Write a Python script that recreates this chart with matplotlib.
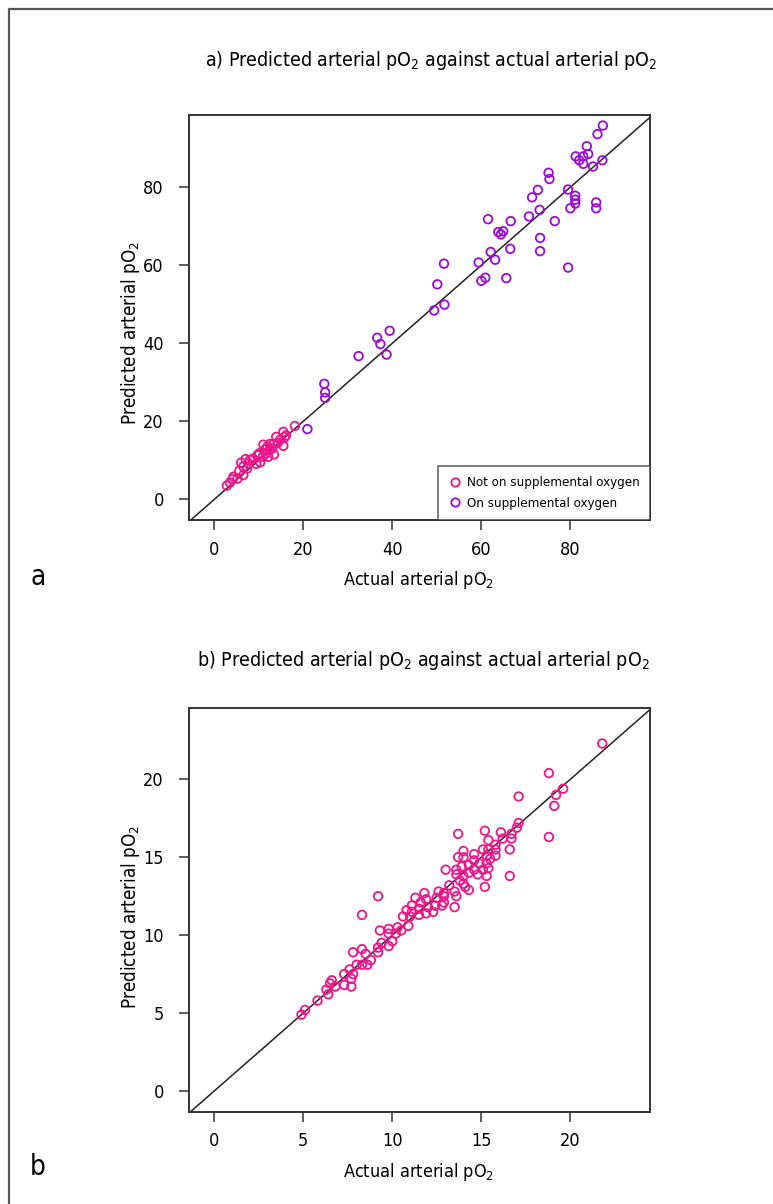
import matplotlib
matplotlib.use("Agg")
import matplotlib.pyplot as plt
from matplotlib import font_manager as fm
from matplotlib.lines import Line2D

# the original uses a narrow face; pick the narrowest one installed
fonts = fm.fontManager.ttflist
names = {f.name for f in fonts}
if 'Liberation Sans Narrow' in names:
    family, stretch = 'Liberation Sans Narrow', 'normal'
elif any(f.name == 'DejaVu Sans' and f.stretch == 'condensed' for f in fonts):
    family, stretch = 'DejaVu Sans', 'condensed'
elif 'Roboto Condensed' in names:
    family, stretch = 'Roboto Condensed', 'normal'
else:
    family, stretch = 'Roboto', 'normal'

plt.rcParams['font.family'] = [family, 'DejaVu Sans']
plt.rcParams['font.stretch'] = stretch
plt.rcParams['mathtext.default'] = 'regular'

PINK = '#EC168C'
PURPLE = '#9A0AD6'

# panel a: not on supplemental oxygen
a_not_x = [18.1, 15.5, 16.1, 15.8, 13.9, 15.5, 13.3, 12.5, 11.0, 11.9, 13.4, 12.4, 13.0,
           11.4, 10.1, 10.9, 12.1, 9.7, 10.3, 9.4, 8.0, 7.6, 7.0, 6.0, 8.6, 6.5, 5.6,
           6.5, 5.2, 4.3, 4.1, 3.5, 2.8, 7.4, 10.0, 11.6, 14.2, 14.8]
a_not_y = [18.8, 17.3, 16.4, 15.9, 16.0, 13.7, 14.2, 14.2, 14.0, 13.5, 11.5, 12.6, 13.0,
           12.8, 11.8, 10.9, 10.9, 11.3, 9.5, 9.1, 10.1, 9.2, 10.3, 9.4, 10.4, 8.4, 7.3,
           6.2, 5.3, 5.8, 5.2, 4.3, 3.5, 7.9, 11.4, 11.8, 14.4, 15.3]

# panel a: on supplemental oxygen
a_on_x = [87.3, 86.1, 83.7, 84.0, 81.2, 82.0, 82.9, 82.9, 87.2, 85.1, 75.1, 75.3, 72.7,
          79.5, 71.4, 81.1, 81.1, 81.1, 85.8, 85.8, 80.0, 73.1, 70.7, 61.5, 66.6, 76.5,
          63.8, 64.4, 64.9, 73.2, 62.1, 66.5, 73.2, 59.4, 63.1, 51.6, 79.5, 60.0, 60.9,
          65.6, 50.1, 51.7, 49.4, 39.4, 36.6, 37.3, 38.7, 32.4, 24.7, 24.9, 24.9, 20.9]
a_on_y = [95.8, 93.6, 90.5, 88.5, 87.9, 86.9, 87.9, 86.0, 86.9, 85.3, 83.7, 82.1, 79.3,
          79.4, 77.4, 77.8, 76.8, 75.8, 76.1, 74.6, 74.6, 74.2, 72.5, 71.8, 71.3, 71.3,
          68.5, 67.9, 68.7, 67.0, 63.4, 64.2, 63.6, 60.7, 61.4, 60.4, 59.4, 56.0, 56.8,
          56.7, 55.1, 49.9, 48.4, 43.2, 41.4, 39.8, 37.1, 36.7, 29.6, 27.4, 26.0, 18.0]

# panel b
b_x = [21.8, 18.8, 17.1, 19.2, 19.6, 19.1, 18.8, 17.1, 17.0, 16.7, 16.7, 16.1, 16.2,
       16.6, 16.6, 15.2, 15.4, 13.7, 15.8, 15.8, 15.1, 15.4, 14.0, 15.8, 15.3, 14.6,
       13.7, 14.0, 15.5, 14.9, 15.3, 14.3, 13.9, 14.6, 15.4, 15.1, 14.6, 13.6, 14.3,
       13.0, 13.6, 15.3, 14.8, 14.0, 13.8, 14.0, 14.1, 14.3, 15.2, 13.2, 13.5, 13.6,
       12.6, 12.9, 12.9, 11.8, 11.3, 11.9, 12.5, 9.2, 11.6, 12.9, 11.1, 12.4, 12.8,
       13.5, 12.0, 10.8, 12.3, 11.9, 11.5, 11.1, 11.5, 10.6, 11.0, 10.9, 10.3, 10.5,
       10.2, 9.8, 9.8, 9.3, 10.0, 9.8, 9.4, 9.2, 9.2, 8.3, 8.3, 7.8, 8.5, 8.8, 8.6,
       8.3, 8.0, 7.6, 7.3, 7.8, 7.7, 7.7, 7.3, 6.8, 6.6, 6.5, 6.3, 6.4, 5.8, 5.1, 4.9]
b_y = [22.3, 20.4, 18.9, 19.0, 19.4, 18.3, 16.3, 17.2, 16.9, 16.5, 16.2, 16.6, 16.2,
       15.5, 13.8, 16.7, 16.1, 16.5, 15.8, 15.5, 15.5, 15.5, 15.4, 15.1, 15.1, 15.2,
       15.0, 15.0, 14.9, 14.6, 14.6, 14.5, 14.4, 14.8, 14.3, 14.2, 14.2, 14.2, 14.0,
       14.2, 13.9, 13.8, 13.9, 13.8, 13.5, 13.3, 13.1, 12.9, 13.1, 13.2, 12.8, 12.5,
       12.8, 12.7, 12.5, 12.7, 12.4, 12.3, 12.4, 12.5, 12.1, 12.1, 11.9, 11.9, 11.9,
       11.8, 11.8, 11.6, 11.5, 11.4, 11.3, 11.5, 11.7, 11.2, 11.2, 10.6, 10.5, 10.3,
       10.1, 10.4, 10.1, 10.3, 9.6, 9.3, 9.5, 9.2, 8.9, 11.3, 9.1, 8.9, 8.8, 8.4, 8.1,
       8.1, 8.1, 7.8, 7.5, 7.5, 7.2, 6.7, 6.8, 6.7, 7.1, 6.9, 6.5, 6.2, 5.8, 5.2, 4.9]

W, H = 773, 1204
fig = plt.figure(figsize=(W / 100, H / 100), dpi=100)


def fx(px):
    return px / W


def fy(py):
    return 1 - py / H


def setup(ax, xlim, ylim, ticks):
    ax.set_xlim(*xlim)
    ax.set_ylim(*ylim)
    ax.set_xticks(ticks)
    ax.set_yticks(ticks)
    ax.plot([-100, 200], [-100, 200], color='#222222', lw=1.1, zorder=1)
    for s in ax.spines.values():
        s.set_color('#333333')
        s.set_linewidth(1.4)
    ax.tick_params(direction='out', length=7, width=1.1, color='#333333',
                   labelsize=13)
    ax.tick_params(axis='x', pad=8)
    ax.tick_params(axis='y', pad=11)


sc = dict(marker='o', facecolors='none', s=38, linewidths=1.3, zorder=3)

# ---- panel a
ax1 = fig.add_axes([fx(189), fy(520), fx(650 - 189), (520 - 115) / H])
setup(ax1, (-5.7, 97.9), (-5.3, 98.5), [0, 20, 40, 60, 80])
ax1.scatter(a_not_x, a_not_y, edgecolors=PINK, **sc)
ax1.scatter(a_on_x, a_on_y, edgecolors=PURPLE, **sc)
handles = [Line2D([], [], ls='none', marker='o', mfc='none', mec=PINK, ms=6, mew=1.3),
           Line2D([], [], ls='none', marker='o', mfc='none', mec=PURPLE, ms=6, mew=1.3)]
leg = ax1.legend(handles, ['Not on supplemental oxygen', 'On supplemental oxygen'],
                 loc='lower right', borderaxespad=0, fancybox=False, fontsize=9.5,
                 handletextpad=0.3, handlelength=1.2, borderpad=0.75, labelspacing=0.6)
leg.get_frame().set_edgecolor('#333333')
leg.get_frame().set_linewidth(1.1)

fig.text(fx(431), fy(60), 'a) Predicted arterial pO$_2$ against actual arterial pO$_2$',
         ha='center', va='center', fontsize=14)
fig.text(fx(419), fy(580), 'Actual arterial pO$_2$', ha='center', va='center', fontsize=13)
fig.text(fx(130), fy(333), 'Predicted arterial pO$_2$', ha='center', va='center',
         rotation=90, fontsize=13.5)
fig.text(fx(38), fy(577), 'a', ha='center', va='center', fontsize=20)

# ---- panel b
ax2 = fig.add_axes([fx(189), fy(1111.5), fx(650 - 189), (1111.5 - 708) / H])
setup(ax2, (-1.42, 24.48), (-1.32, 24.58), [0, 5, 10, 15, 20])
ax2.scatter(b_x, b_y, edgecolors=PINK, **sc)

fig.text(fx(423), fy(660), 'b) Predicted arterial pO$_2$ against actual arterial pO$_2$',
         ha='center', va='center', fontsize=14)
fig.text(fx(419), fy(1172), 'Actual arterial pO$_2$', ha='center', va='center', fontsize=13)
fig.text(fx(130), fy(917), 'Predicted arterial pO$_2$', ha='center', va='center',
         rotation=90, fontsize=13.5)
fig.text(fx(38), fy(1167), 'b', ha='center', va='center', fontsize=20)

# frame around the figure (top and left edges)
fig.add_artist(Line2D([fx(9), fx(9), 1.0], [0.0, fy(9), fy(9)],
                      color='#555555', lw=1.6, transform=fig.transFigure))

fig.savefig('out.png', dpi=100)
